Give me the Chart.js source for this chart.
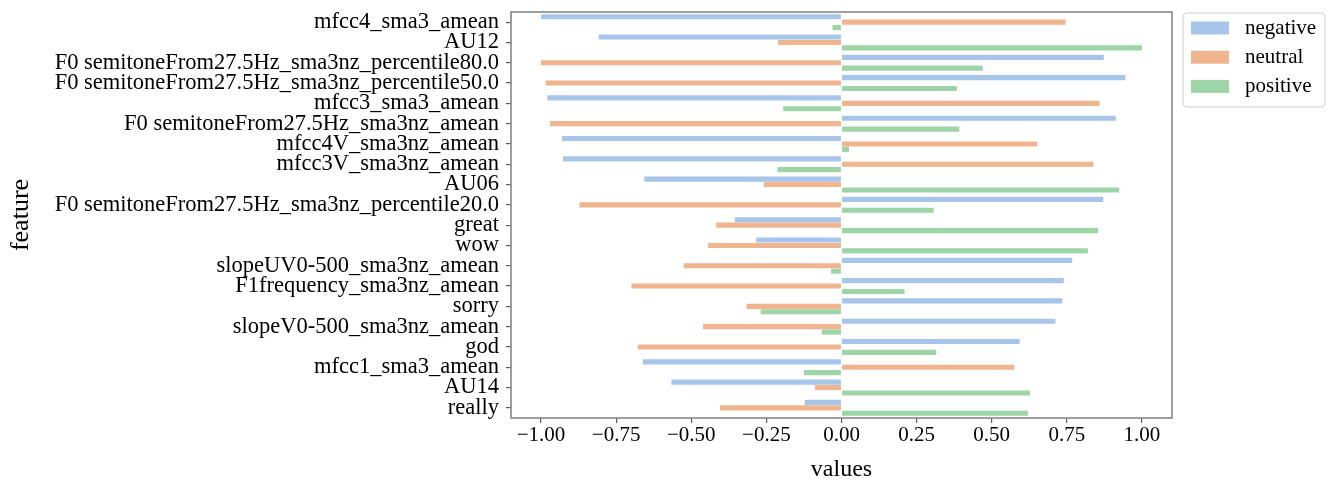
<!DOCTYPE html>
<html>
<head>
<meta charset="utf-8">
<script src="https://cdn.jsdelivr.net/npm/chart.js@4.4.1/dist/chart.umd.min.js"></script>
<style>
  html, body { margin: 0; padding: 0; background: #fff; }
  #wrap { width: 1326px; height: 486px; }
</style>
</head>
<body>
<div id="wrap"><canvas id="c" width="1326" height="486"></canvas></div>
<script>
const categories = [
  "mfcc4_sma3_amean",
  "AU12",
  "F0 semitoneFrom27.5Hz_sma3nz_percentile80.0",
  "F0 semitoneFrom27.5Hz_sma3nz_percentile50.0",
  "mfcc3_sma3_amean",
  "F0 semitoneFrom27.5Hz_sma3nz_amean",
  "mfcc4V_sma3nz_amean",
  "mfcc3V_sma3nz_amean",
  "AU06",
  "F0 semitoneFrom27.5Hz_sma3nz_percentile20.0",
  "great",
  "wow",
  "slopeUV0-500_sma3nz_amean",
  "F1frequency_sma3nz_amean",
  "sorry",
  "slopeV0-500_sma3nz_amean",
  "god",
  "mfcc1_sma3_amean",
  "AU14",
  "really"
];
const seriesNames = ["negative", "neutral", "positive"];
const negative = [-1.00, -0.808, 0.873, 0.945, -0.979, 0.913, -0.930, -0.927, -0.656, 0.871,
                  -0.355, -0.284, 0.768, 0.740, 0.735, 0.712, 0.593, -0.661, -0.566, -0.122];
const neutral  = [0.746, -0.211, -1.00, -0.985, 0.859, -0.970, 0.651, 0.839, -0.258, -0.872,
                  -0.417, -0.444, -0.525, -0.699, -0.316, -0.461, -0.678, 0.575, -0.088, -0.404];
const positive = [-0.030, 1.00, 0.470, 0.384, -0.194, 0.392, 0.025, -0.213, 0.924, 0.307,
                  0.854, 0.820, -0.035, 0.210, -0.269, -0.065, 0.315, -0.125, 0.627, 0.620];
const xTickValues = [-1.00, -0.75, -0.50, -0.25, 0.00, 0.25, 0.50, 0.75, 1.00];

const colors = ["#a7c5ea", "#f0b48e", "#9dd5a7"];
const FONT = "'Liberation Serif', 'Times New Roman', 'DejaVu Serif', serif";
Chart.defaults.font.family = FONT;
Chart.defaults.color = "#000";

const framePlugin = {
  id: "frame",
  afterDatasetsDraw(chart) {
    const a = chart.chartArea, ctx = chart.ctx;
    ctx.save();
    ctx.strokeStyle = "#808080";
    ctx.lineWidth = 1.5;
    ctx.strokeRect(a.left, a.top, a.right - a.left, a.bottom - a.top);
    ctx.restore();
  }
};

const legendPlugin = {
  id: "boxLegend",
  afterDraw(chart) {
    const ctx = chart.ctx;
    const x0 = 1183, y0 = 13, w = 142, h = 94, r = 4;
    ctx.save();
    ctx.beginPath();
    ctx.moveTo(x0 + r, y0);
    ctx.lineTo(x0 + w - r, y0);
    ctx.quadraticCurveTo(x0 + w, y0, x0 + w, y0 + r);
    ctx.lineTo(x0 + w, y0 + h - r);
    ctx.quadraticCurveTo(x0 + w, y0 + h, x0 + w - r, y0 + h);
    ctx.lineTo(x0 + r, y0 + h);
    ctx.quadraticCurveTo(x0, y0 + h, x0, y0 + h - r);
    ctx.lineTo(x0, y0 + r);
    ctx.quadraticCurveTo(x0, y0, x0 + r, y0);
    ctx.closePath();
    ctx.fillStyle = "rgba(255,255,255,0.85)";
    ctx.fill();
    ctx.strokeStyle = "#d0d0d0";
    ctx.lineWidth = 1;
    ctx.stroke();
    ctx.font = "21px " + FONT;
    ctx.textBaseline = "middle";
    ctx.textAlign = "left";
    chart.data.datasets.forEach((ds, i) => {
      const cy = 28 + i * 29.2;
      ctx.fillStyle = ds.backgroundColor;
      ctx.fillRect(1191, cy - 6.5, 38, 13);
      ctx.fillStyle = "#000";
      ctx.fillText(ds.label, 1245, cy);
    });
    ctx.restore();
  }
};

new Chart(document.getElementById("c"), {
  type: "bar",
  data: {
    labels: categories,
    datasets: [
      { label: seriesNames[0], data: negative, backgroundColor: colors[0] },
      { label: seriesNames[1], data: neutral,  backgroundColor: colors[1] },
      { label: seriesNames[2], data: positive, backgroundColor: colors[2] }
    ]
  },
  options: {
    indexAxis: "y",
    responsive: false,
    animation: false,
    datasets: { bar: { categoryPercentage: 0.8, barPercentage: 0.95, borderWidth: 0 } },
    layout: { padding: { top: 12, right: 154, left: 0, bottom: 0 } },
    plugins: { legend: { display: false }, tooltip: { enabled: false } },
    scales: {
      x: {
        type: "linear",
        min: -1.1,
        max: 1.1,
        afterBuildTicks(scale) { scale.ticks = xTickValues.map(v => ({ value: v })); },
        afterFit(scale) { scale.height = 68; scale.paddingLeft = 0; scale.paddingRight = 0; },
        ticks: {
          autoSkip: false,
          maxRotation: 0,
          padding: 0,
          color: "#000",
          font: { size: 21, family: FONT },
          callback: v => (v < 0 ? "\u2212" : "") + Math.abs(v).toFixed(2)
        },
        grid: { drawOnChartArea: false, drawTicks: true, tickLength: 5, color: "#606060", lineWidth: 1.2 },
        border: { display: false },
        title: { display: true, text: "values", color: "#000", font: { size: 24, family: FONT }, padding: { top: 0, bottom: 2 } }
      },
      y: {
        type: "category",
        afterFit(scale) { scale.width = 511; scale.paddingTop = 0; scale.paddingBottom = 0; },
        ticks: {
          autoSkip: false,
          padding: 7,
          color: "#000",
          font: { size: 22.5, family: FONT }
        },
        grid: { offset: false, drawOnChartArea: false, drawTicks: true, tickLength: 5, color: "#606060", lineWidth: 1.2 },
        border: { display: false },
        title: { display: true, text: "feature", color: "#000", font: { size: 26, family: FONT }, padding: { top: 6, bottom: 0 } }
      }
    }
  },
  plugins: [framePlugin, legendPlugin]
});
</script>
</body>
</html>
